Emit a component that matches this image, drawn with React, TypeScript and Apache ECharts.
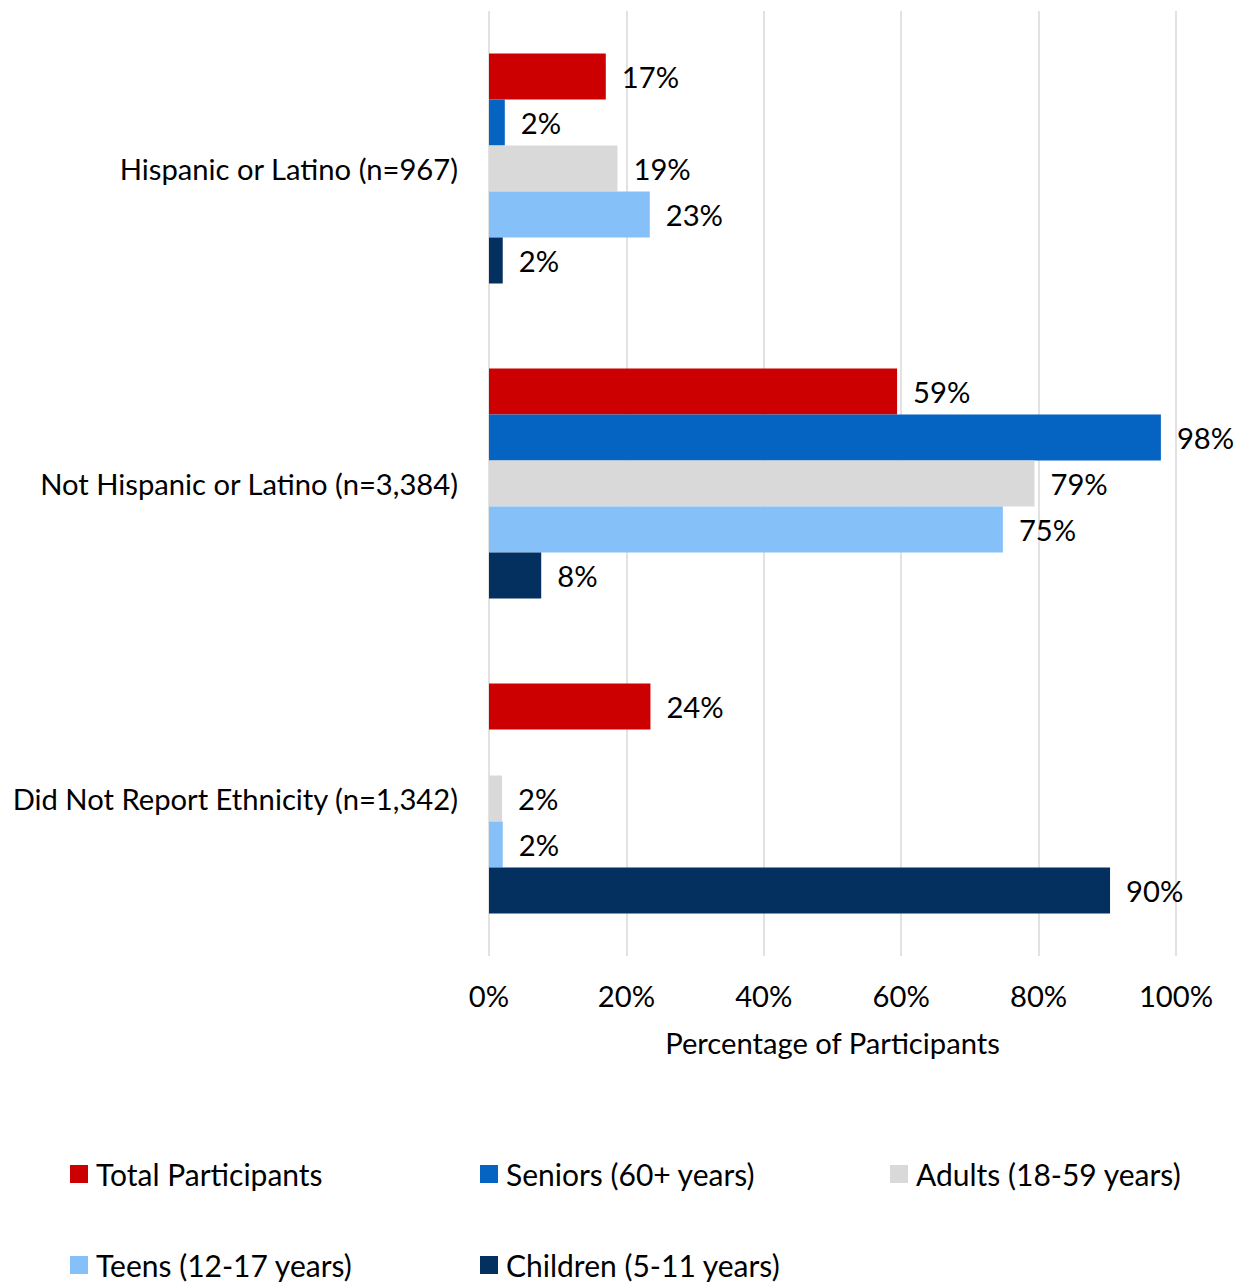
import React, { useEffect, useRef } from "react";
import * as echarts from "echarts";

const categories = [
  "Hispanic or Latino (n=967)",
  "Not Hispanic or Latino (n=3,384)",
  "Did Not Report Ethnicity (n=1,342)",
];
const seriesNames = [
  "Total Participants",
  "Seniors (60+ years)",
  "Adults (18-59 years)",
  "Teens (12-17 years)",
  "Children (5-11 years)",
];
const totalValues = [17.0, 59.4, 23.5];
const seniorValues: (number | null)[] = [2.3, 97.8, null];
const adultValues = [18.7, 79.4, 1.9];
const teenValues = [23.4, 74.8, 2.0];
const childValues = [2.0, 7.6, 90.4];
const seriesColors = ["#CC0000", "#0563C1", "#D9D9D9", "#85C0F9", "#03305F"];
const xTicks = [0, 20, 40, 60, 80, 100];

const FONT = "Lato";
const FS = 29.2;

export default function App() {
  const ref = useRef<HTMLDivElement>(null);
  useEffect(() => {
    document.body.style.margin = "0";
    if (!ref.current) return;
    const chart = echarts.init(ref.current, undefined, { renderer: "svg" });
    const values = [totalValues, seniorValues, adultValues, teenValues, childValues];
    const legendPos = [
      { left: 70, top: 1158 },
      { left: 480, top: 1158 },
      { left: 890, top: 1158 },
      { left: 70, top: 1249 },
      { left: 480, top: 1249 },
    ];
    chart.setOption({
      animation: false,
      textStyle: { fontFamily: FONT },
      grid: { left: 489, top: 11, width: 687, height: 945, containLabel: false },
      xAxis: {
        type: "value",
        min: 0,
        max: 100,
        interval: 20,
        axisLine: { show: false },
        axisTick: { show: false },
        axisLabel: {
          margin: 25,
          fontSize: FS,
          color: "#000",
          fontFamily: FONT,
          formatter: (v: number) => (xTicks.includes(v) ? `${v}%` : ""),
        },
        splitLine: { show: true, lineStyle: { color: "#D9D9D9", width: 1.5 } },
        name: "Percentage of Participants",
        nameLocation: "middle",
        nameGap: 72,
        nameTextStyle: { fontSize: FS, color: "#000", fontFamily: FONT },
      },
      yAxis: {
        type: "category",
        inverse: true,
        data: categories,
        axisLine: { show: false },
        axisTick: { show: false },
        axisLabel: { margin: 31, fontSize: FS, color: "#000", fontFamily: FONT },
      },
      legend: legendPos.map((p, i) => ({
        data: [seriesNames[i]],
        left: p.left,
        top: p.top,
        padding: 0,
        itemWidth: 18,
        itemHeight: 18,
        itemGap: 9,
        icon: "rect",
        selectedMode: false,
        textStyle: { fontSize: 30, color: "#000", fontFamily: FONT, lineHeight: 32, padding: [0, 0, 0, 3] },
      })),
      series: seriesNames.map((name, i) => ({
        name,
        type: "bar",
        data: values[i],
        barWidth: 46,
        barGap: "0%",
        itemStyle: { color: seriesColors[i] },
        label: {
          show: true,
          position: "right",
          distance: 16,
          fontSize: FS,
          color: "#000",
          fontFamily: FONT,
          formatter: (p: any) => `${Math.round(p.value)}%`,
        },
      })),
    });
    return () => chart.dispose();
  }, []);
  return <div ref={ref} style={{ width: 1245, height: 1284 }} />;
}
